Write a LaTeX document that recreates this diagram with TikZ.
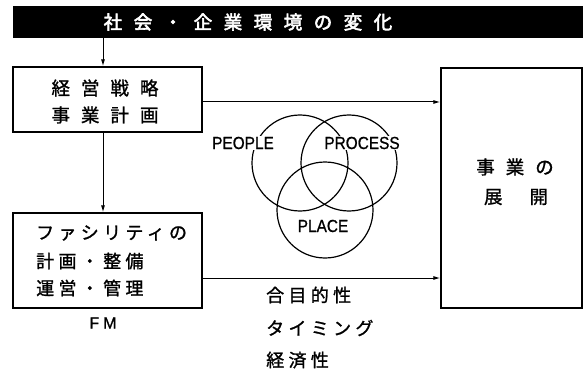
\documentclass[tikz,border=0pt]{standalone}
\usepackage{fontspec}
\newfontfamily\jp[FakeBold=1.2]{Noto Sans CJK JP}
\newfontfamily\jpb[FakeBold=3]{Noto Sans CJK JP}
\newfontfamily\jpls[LetterSpace=24,FakeBold=1.2]{Noto Sans CJK JP}
\newfontfamily\lat[FakeStretch=0.88,FakeBold=0.8]{Liberation Sans}
\newfontfamily\latw[FakeBold=1]{Liberation Sans}
\usetikzlibrary{arrows.meta}
\newcommand\gp{\hspace{11pt}}
\newcommand\gpw{\hspace{11.5pt}}
\tikzset{
  box/.style={draw, line width=1.3pt, inner sep=0pt},
  arr/.style={line width=1pt, -{Latex[length=7pt,width=4pt]}},
  ring/.style={draw, line width=1.2pt},
  jtext/.style={inner sep=0pt, font=\jp\fontsize{18.5}{20}\selectfont},
  jdense/.style={inner sep=0pt, anchor=west, font=\jpls\fontsize{18}{20}\selectfont},
  ltext/.style={inner sep=0pt, font=\lat\fontsize{17.5}{20}\selectfont},
}
\begin{document}
\begin{tikzpicture}[x=1pt,y=-1pt]
\useasboundingbox (0,0) rectangle (585,374);
\fill[white] (0,0) rectangle (585,374);
% header bar
\node[box, fill=black, minimum width=568pt, minimum height=30pt] (bar) at (298,22) {};
\node[inner sep=0pt, text=white, font=\jpb\fontsize{18.5}{20}\selectfont] (bart) at (248,22)
  {社\gpw 会\gpw ・\gpw 企\gpw 業\gpw 環\gpw 境\gpw の\gpw 変\gpw 化};
% boxes
\node[box, minimum width=189pt, minimum height=65pt] (plan) at (107.5,99.5) {};
\node[box, minimum width=189pt, minimum height=95pt] (fm) at (107.5,260.5) {};
\node[box, minimum width=141pt, minimum height=240pt] (biz) at (511.5,188) {};
% box texts
\node[jtext] (p1) at (105,88) {経\gp 営\gp 戦\gp 略};
\node[jtext] (p2) at (105,115) {事\gp 業\gp 計\gp 画};
\node[jdense] (f1) at (36,233) {ファシリティの};
\node[jdense] (f2) at (36,261) {計画・整備};
\node[jdense] (f3) at (36,288) {運営・管理};
\node[inner sep=0pt, font=\latw\fontsize{16}{18}\selectfont] (fmt) at (103,323) {F\hspace{4pt}M};
\node[jtext] (b1) at (515,167) {事\gp 業\gp の};
\node[jtext] (b2) at (516,197) {展\hspace{27pt}開};
% criteria texts
\node[jdense] (c1) at (266,295) {合目的性};
\node[jdense] (c2) at (266,328) {タイミング};
\node[jdense] (c3) at (266,360) {経済性};
% circles
\node[ring, circle, minimum size=96pt, inner sep=0pt] (cpeople) at (300,163) {};
\node[ring, circle, minimum size=96pt, inner sep=0pt] (cprocess) at (349,163) {};
\node[ring, circle, minimum size=96pt, inner sep=0pt] (cplace) at (325,210) {};
\node[ltext, fill=white, inner sep=1pt] (lpeople) at (243,143) {PEOPLE};
\node[ltext, fill=white, inner sep=1pt] (lprocess) at (362,143) {PROCESS};
\node[ltext] (lplace) at (323,226) {PLACE};
% connectors
\coordinate (ax) at (103,0);
\coordinate (ay1) at (0,102);
\coordinate (ay2) at (0,278);
\draw[arr] (bar.south -| ax) -- (plan.north -| ax);
\draw[arr] (plan.south -| ax) -- (fm.north -| ax);
\draw[arr] (plan.east |- ay1) -- (biz.west |- ay1);
\draw[arr] (fm.east |- ay2) -- (biz.west |- ay2);
\end{tikzpicture}
\end{document}
